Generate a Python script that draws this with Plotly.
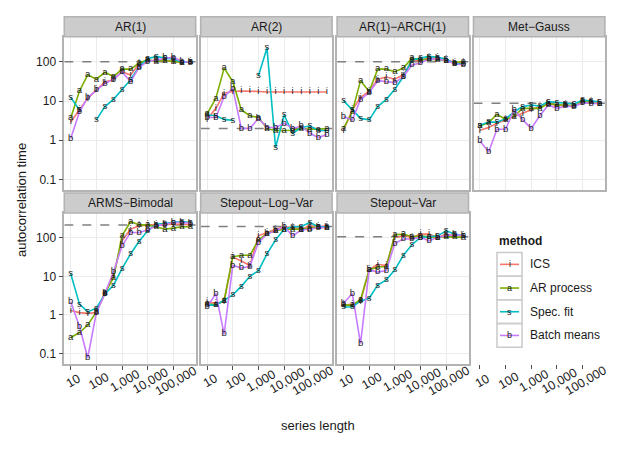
import plotly.graph_objects as go
import math

# ---------------- data ----------------
series_length = [10, 22, 46, 100, 215, 464, 1000, 2154, 4642, 10000, 21544, 46416, 100000, 215443, 464159]

panel_names = ["AR(1)", "AR(2)", "AR(1)\u2212ARCH(1)", "Met\u2212Gauss",
               "ARMS\u2212Bimodal", "Stepout\u2212Log\u2212Var", "Stepout\u2212Var"]
methods = ["ICS", "AR process", "Spec. fit", "Batch means"]
method_letters = ["i", "a", "s", "b"]
method_colors = ["#F8766D", "#7CAE00", "#00BFC4", "#C77CFF"]
ref_levels = [100, 2.0, 100, 8.7, 213, 195, 106]

x_ticks = [10, 100, 1000, 10000, 100000]
x_tick_labels = ["10", "100", "1,000", "10,000", "100,000"]
y_ticks = [0.1, 1, 10, 100]
y_tick_labels = ["0.1", "1", "10", "100"]

# AR(1)
ar1_ics = [2.9, 5.9, 11.7, 19, 31, 35, 56, 46, 89, 108, 108, 108, 102, 96, 102]
ar1_arp = [3.7, 18, 46.5, 36, 54, 42, 65, 65, 93, 112, 102, 108, 102, 96, 102]
ar1_spec = [12.3, 5.9, None, 3.3, 7.2, 11, 20, 35, 76, 119, 137, 124, 119, 96, 102]
ar1_batch = [1.1, 5.3, 12.3, 19, 28, 36, 55, 31, 72, 102, 112, 124, 131, 102, 96]
# AR(2)
ar2_ics = [3.4, 6.5, 15.8, 17.5, 18, 18, 17.5, 17, 17, 17, 17, 17, 17, 17, 17]
ar2_arp = [4.7, 11.8, 69, 31.5, 5.9, 4.2, 3.8, 2.0, 1.74, 1.8, 1.8, 2.0, 1.9, 1.9, 2.0]
ar2_spec = [4.4, 4.2, 3.4, 3.2, None, None, 44, 224, 0.65, 4.4, 1.5, 2.1, 2.3, 1.8, 1.74]
ar2_batch = [3.8, 3.8, 12.9, 21, 2.0, 2.0, 3.6, 2.1, 2.1, 2.7, 2.0, 2.3, 1.5, 1.17, 1.4]
# AR(1)-ARCH(1)
arch_ics = [1.8, 5.9, 12.4, 17.5, 36, 41, 36, 46.5, 108, 108, 124, 124, 112, 96, 96]
arch_arp = [2.0, 5.3, 33, 17.5, 65, 65, 56, 69, 124, 112, 117, 112, 108, 96, 102]
arch_spec = [10.2, 6.1, 3.6, 3.3, 7.2, 11, 20, 42, 112, 124, 137, 131, 117, 89, 89]
arch_batch = [4.0, 3.3, 11, 16.4, 33, 31.5, 29.5, 42, 83, 93, 117, 117, 108, 89, 83]
# Met-Gauss
mg_ics = [1.8, 2.1, 2.7, 3.3, 4.0, 4.8, 5.9, 7.2, 8.4, 7.9, 7.9, 7.4, 9.1, 9.7, 8.7]
mg_arp = [2.3, 2.8, 4.6, 3.4, 4.1, 6.5, 6.5, 6.5, 8.7, 7.9, 7.9, 7.4, 10, 9.5, 8.7]
mg_spec = [2.4, 2.9, 2.9, 3.5, 5.3, 7.2, 7.9, 7.4, 9.6, 9.1, 8.7, 8.4, 10.6, 10.0, 9.6]
mg_batch = [0.95, 0.5, 1.9, 1.9, 5.9, 3.3, 2.0, 4.2, 7.9, 6.5, 7.4, 7.2, 9.1, 8.7, 8.7]
# ARMS-Bimodal
arms_ics = [1.3, 1.15, 1.1, 1.15, 3.6, 10.6, 84, 166, 203, 215, 215, 224, 224, 224, 215]
arms_arp = [0.26, 0.35, 0.55, 1.2, 3.7, 9.2, 112, 263, 215, 215, 192, 166, 177, 192, 192]
arms_spec = [11.7, 1.9, 1.2, 1.5, 3.5, 5.9, 15.8, 38, 81, 151, 224, 238, 248, 263, 248]
arms_batch = [2.2, 0.5, 0.078, 1.15, 3.6, 12.9, 62, 137, 137, 158, 203, 224, 248, 248, 238]
# Stepout-Log-Var
slv_ics = [2.2, 2.0, 2.2, 31.5, 25, 19, 112, 137, 166, 192, 183, 166, 203, 192, 203]
slv_arp = [2.0, 1.8, 2.4, 32, 35, 35, 87, 129, 151, 166, 166, 166, 177, 192, 183]
slv_spec = [1.8, 1.8, 2.4, 3.3, 5.5, 10, 14, 38, 87, 166, 192, 192, 248, 192, 192]
slv_batch = [1.6, 3.6, 0.32, 19, 16.6, 18, 76, 124, 151, 192, 112, 158, 166, 183, 183]
# Stepout-Var
sv_ics = [1.8, 1.9, 2.2, 14.7, 20.5, 19, 102, 112, 102, 124, 124, 102, 124, 112, 112]
sv_arp = [1.8, 1.8, 2.5, 14.7, 17.5, 18, 120, 124, 106, 112, 106, 102, 106, 106, 102]
sv_spec = [1.6, 1.6, 2.3, 2.7, 5.9, 8.1, 14.7, 35, 66, 102, 106, 112, 151, 124, 112]
sv_batch = [2.0, 3.6, 0.18, 14.7, 12.9, 14.2, 72, 93, 93, 102, 83, 102, 112, 120, 112]

panel_data = [
    [ar1_ics, ar1_arp, ar1_spec, ar1_batch],
    [ar2_ics, ar2_arp, ar2_spec, ar2_batch],
    [arch_ics, arch_arp, arch_spec, arch_batch],
    [mg_ics, mg_arp, mg_spec, mg_batch],
    [arms_ics, arms_arp, arms_spec, arms_batch],
    [slv_ics, slv_arp, slv_spec, slv_batch],
    [sv_ics, sv_arp, sv_spec, sv_batch],
]

# ---------------- layout geometry (page pixels) ----------------
OFF = 8  # browser body margin
W, H = 629 - OFF, 450 - OFF
FONT = "Liberation Sans, Arial, sans-serif"
col_x = [(64.3, 195.7), (200.7, 332.1), (337.1, 468.5), (473.5, 604.9)]
row_y = [(36.7, 190.0), (213.0, 364.0)]
strip_h = 20.0
x_range = [0.75, 5.87]
y_range = [-1.27, 2.64]
border_col = "#b3b3b3"
grid_col = "#ebebeb"
txt_col = "#1a1a1a"


def fx(px):
    return (px - OFF) / W


def fy(py):
    return 1 - (py - OFF) / H


panel_pos = [(0, 0), (0, 1), (0, 2), (0, 3), (1, 0), (1, 1), (1, 2)]

fig = go.Figure()
layout = {}
shapes = []
annotations = []


def axname(i, a):
    return a if i == 0 else f"{a}{i + 1}"


def add_xlabels(i):
    xr = "x" if i == 0 else f"x{i + 1}"
    for t, lab in zip(x_ticks, x_tick_labels):
        annotations.append(dict(text=lab, xref=xr, yref="paper", x=math.log10(t),
                                y=fy(380.5), xshift=2.5, textangle=-30, showarrow=False,
                                xanchor="center", yanchor="middle",
                                font=dict(size=12.5, color=txt_col, family=FONT)))


for i, (r, c) in enumerate(panel_pos):
    x0, x1 = col_x[c]
    y0, y1 = row_y[r]
    show_x = r == 1
    show_y = c == 0
    layout[axname(i, "xaxis")] = dict(
        type="log", range=x_range, domain=[fx(x0), fx(x1)], anchor=axname(i, "y"),
        automargin=False, tickvals=x_ticks, showticklabels=False,
        ticks="outside" if show_x else "", ticklen=4, tickwidth=1, tickcolor="#4d4d4d",
        showgrid=True, gridcolor=grid_col, gridwidth=1, zeroline=False,
        showline=True, mirror=True, linecolor=border_col, linewidth=1.6,
    )
    if show_x:
        add_xlabels(i)
    layout[axname(i, "yaxis")] = dict(
        type="log", range=y_range, domain=[fy(y1), fy(y0)], anchor=axname(i, "x"),
        automargin=False,
        tickvals=y_ticks, ticktext=y_tick_labels, showticklabels=show_y,
        ticks="outside" if show_y else "", ticklen=4, tickwidth=1, tickcolor="#4d4d4d",
        tickfont=dict(size=12, color=txt_col, family=FONT),
        showgrid=True, gridcolor=grid_col, gridwidth=1, zeroline=False,
        showline=True, mirror=True, linecolor=border_col, linewidth=1.6,
    )
    # strip
    shapes.append(dict(type="rect", xref="paper", yref="paper",
                       x0=fx(x0), x1=fx(x1), y0=fy(y0 - strip_h), y1=fy(y0),
                       fillcolor="#cccccc", line=dict(color=border_col, width=1.6)))
    annotations.append(dict(text=panel_names[i], xref="paper", yref="paper",
                            x=fx((x0 + x1) / 2), y=fy(y0 - strip_h / 2),
                            showarrow=False, xanchor="center", yanchor="middle",
                            font=dict(size=12, color=txt_col, family=FONT)))

# axis under the empty 4th slot of the bottom row
i = 7
x0, x1 = col_x[3]
layout[axname(i, "xaxis")] = dict(
    type="log", range=x_range, domain=[fx(x0), fx(x1)], anchor=axname(i, "y"),
    automargin=False, tickvals=x_ticks, showticklabels=False,
    ticks="outside", ticklen=4, tickwidth=1, tickcolor="#4d4d4d",
    showgrid=False, zeroline=False, showline=False,
)
layout[axname(i, "yaxis")] = dict(
    type="log", range=y_range, domain=[fy(364), fy(360)], anchor=axname(i, "x"),
    automargin=False, visible=False, showgrid=False,
)
add_xlabels(7)

# traces: reference lines, then lines, then letters
for i in range(7):
    xa = "x" if i == 0 else f"x{i + 1}"
    ya = "y" if i == 0 else f"y{i + 1}"
    fig.add_trace(go.Scatter(
        x=[10 ** x_range[0], 10 ** x_range[1]], y=[ref_levels[i], ref_levels[i]],
        mode="lines", line=dict(color="#808080", width=1.5, dash="dash"),
        xaxis=xa, yaxis=ya, showlegend=False, hoverinfo="skip"))
for i in range(7):
    xa = "x" if i == 0 else f"x{i + 1}"
    ya = "y" if i == 0 else f"y{i + 1}"
    for m in range(4):
        fig.add_trace(go.Scatter(
            x=series_length, y=panel_data[i][m], mode="lines",
            line=dict(color=method_colors[m], width=1.6),
            connectgaps=False, xaxis=xa, yaxis=ya, showlegend=False))
for i in range(7):
    xa = "x" if i == 0 else f"x{i + 1}"
    ya = "y" if i == 0 else f"y{i + 1}"
    for m in range(4):
        fig.add_trace(go.Scatter(
            x=series_length, y=panel_data[i][m], mode="text",
            text=[method_letters[m] if v is not None else "" for v in panel_data[i][m]],
            textposition="middle center",
            textfont=dict(size=9.5, color=txt_col, family=FONT),
            xaxis=xa, yaxis=ya, showlegend=False))

# legend (manual)
leg_x0, leg_x1 = 497.0, 522.0
leg_top = 252.5
leg_h = 23.7
annotations.append(dict(text="<b>method</b>", xref="paper", yref="paper",
                        x=fx(leg_x0), y=fy(241), xanchor="left", yanchor="middle",
                        showarrow=False, font=dict(size=12, color=txt_col, family=FONT)))
for m in range(4):
    ty = leg_top + m * leg_h
    shapes.append(dict(type="rect", xref="paper", yref="paper",
                       x0=fx(leg_x0), x1=fx(leg_x1), y0=fy(ty + leg_h), y1=fy(ty),
                       fillcolor="white", line=dict(color="#cccccc", width=1.6)))
    cy = ty + leg_h / 2
    shapes.append(dict(type="line", xref="paper", yref="paper",
                       x0=fx(leg_x0 + 3), x1=fx(leg_x1 - 3), y0=fy(cy), y1=fy(cy),
                       line=dict(color=method_colors[m], width=1.6)))
    annotations.append(dict(text=method_letters[m], xref="paper", yref="paper",
                            x=fx((leg_x0 + leg_x1) / 2), y=fy(cy), xanchor="center",
                            yanchor="middle", showarrow=False,
                            font=dict(size=9, color=txt_col, family=FONT)))
    annotations.append(dict(text=methods[m], xref="paper", yref="paper",
                            x=fx(528), y=fy(cy), xanchor="left", yanchor="middle",
                            showarrow=False, font=dict(size=12, color=txt_col, family=FONT)))

# axis titles
annotations.append(dict(text="autocorrelation time", xref="paper", yref="paper",
                        x=fx(21), y=fy(200), textangle=-90, showarrow=False,
                        xanchor="center", yanchor="middle",
                        font=dict(size=13, color=txt_col, family=FONT)))
annotations.append(dict(text="series length", xref="paper", yref="paper",
                        x=fx(318), y=fy(425), showarrow=False,
                        xanchor="center", yanchor="middle",
                        font=dict(size=13, color=txt_col, family=FONT)))

fig.update_layout(
    width=W, height=H, margin=dict(l=0, r=0, t=0, b=0),
    paper_bgcolor="white", plot_bgcolor="white",
    showlegend=False, shapes=shapes, annotations=annotations,
    font=dict(family=FONT),
    **layout,
)

fig.write_html("out.html")
